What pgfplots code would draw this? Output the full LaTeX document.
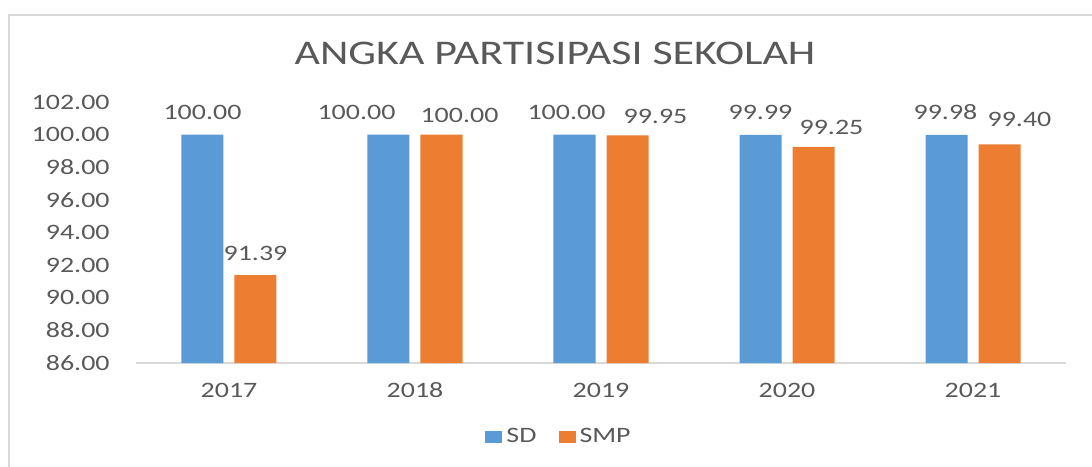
\documentclass[border=0pt]{standalone}
\usepackage{pgfplots}
\usepackage{pgfplotstable}
\pgfplotsset{compat=1.18}
\usepackage{fontspec}
\setmainfont{Carlito}[FakeStretch=1.27]

\definecolor{sdblue}{HTML}{5B9BD5}
\definecolor{smporange}{HTML}{ED7D31}
\definecolor{textgray}{HTML}{595959}
\definecolor{linegray}{HTML}{D9D9D9}

% year index, value, label shift x / gap above bar (pt)
\pgfplotstableread{
x  sd     sddx  sddy  smp    smpdx smpdy
0  100.00 0     7.5   91.39  0     7.5
1  100.00 -16   7.5   100.00 9     6
2  100.00 -4    7.5   99.95  14    5.8
3  99.99  0     7.5   99.25  9     6
4  99.98  -0.5  7.5   99.40  10    8.8
}\apsdata

\begin{document}
\begin{tikzpicture}
\useasboundingbox (-68pt,-51.5pt) rectangle (478pt,181.5pt);
\clip (-68pt,-51.5pt) rectangle (478pt,181.5pt);
\draw[linegray, line width=1.2pt] (-63.5pt,-90pt) rectangle (530pt,174pt);
\begin{axis}[
    scale only axis,
    width=465pt, height=130.5pt,
    xmin=-0.5, xmax=4.5,
    ymin=86, ymax=102,
    ytick={86,88,...,102},
    xtick={0,1,2,3,4},
    xticklabels={2017,2018,2019,2020,2021},
    ybar, bar width=21pt,
    major tick length=0pt,
    axis x line*=bottom, axis y line*=left,
    y axis line style={draw=none},
    x axis line style={draw=linegray, line width=0.8pt},
    clip=false,
    /pgf/number format/.cd, fixed, fixed zerofill, precision=2, assume math mode=true,
    /pgfplots/.cd,
    tick label style={font=\fontsize{11}{13}\selectfont, text=textgray},
    yticklabel style={anchor=east, inner sep=0pt, xshift=-13pt},
    xticklabel style={anchor=center, inner sep=0pt, yshift=-13.5pt},
    title={ANGKA PARTISIPASI SEKOLAH},
    title style={at={(0.4505,1)}, anchor=center, yshift=18.5pt,
        font=\fontsize{17.3}{20}\selectfont, text=textgray},
    nodes near coords,
    every node near coord/.append style={font=\fontsize{11}{13}\selectfont,
        text=textgray, anchor=base, inner sep=0pt},
    legend style={at={(0.456,-0.2835)}, anchor=center, legend columns=2,
        draw=none, font=\fontsize{11}{13}\selectfont, text=textgray,
        /tikz/every even column/.append style={column sep=9pt}},
    legend image code/.code={\fill[#1,draw=none] (0pt,-3pt) rectangle (8.5pt,3pt);},
]
\addplot[fill=sdblue, draw=none, bar shift=-13.25pt,
    visualization depends on={\thisrow{sddx} \as \lblx},
    visualization depends on={\thisrow{sddy} \as \lbly},
    every node near coord/.append style={xshift=\lblx pt, yshift=\lbly pt}]
    table[x=x, y=sd] {\apsdata};
\addlegendentry{SD}
\addplot[fill=smporange, draw=none, bar shift=13.25pt,
    visualization depends on={\thisrow{smpdx} \as \lblx},
    visualization depends on={\thisrow{smpdy} \as \lbly},
    every node near coord/.append style={xshift=\lblx pt, yshift=\lbly pt}]
    table[x=x, y=smp] {\apsdata};
\addlegendentry{SMP}
\end{axis}
\end{tikzpicture}
\end{document}
